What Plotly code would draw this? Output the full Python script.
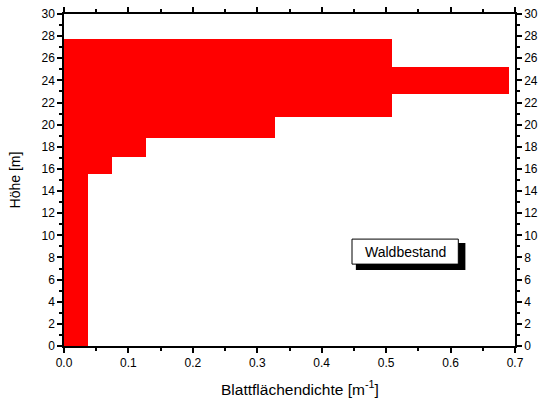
import plotly.graph_objects as go

# Layer data (height bounds in m, leaf area density in m^-1)
layer_top = [27.7, 25.2, 22.8, 20.7, 18.8, 17.1, 15.5]
layer_bottom = [25.2, 22.8, 20.7, 18.8, 17.1, 15.5, 0.0]
density = [0.509, 0.690, 0.509, 0.328, 0.128, 0.074, 0.037]

y_center = [(t + b) / 2 for t, b in zip(layer_top, layer_bottom)]
thickness = [t - b for t, b in zip(layer_top, layer_bottom)]

FONT = "Arial, Liberation Sans, sans-serif"

fig = go.Figure()
fig.add_trace(go.Bar(
    x=density, y=y_center, width=thickness, orientation="h",
    marker=dict(color="#ff0000", line=dict(width=0)),
    showlegend=False, hoverinfo="x+y",
))
# invisible trace for right axis
fig.add_trace(go.Scatter(x=[0], y=[0], yaxis="y2", mode="markers",
                         marker=dict(opacity=0), showlegend=False, hoverinfo="skip"))

axis_common = dict(
    showline=True, linecolor="black", linewidth=1.5,
    ticks="outside", ticklen=5, tickwidth=1.5, tickcolor="black",
    showgrid=False, zeroline=False, automargin=False,
    tickfont=dict(family=FONT, size=12, color="black"),
)

fig.update_layout(
    width=540, height=403,
    margin=dict(l=64, r=25, t=14, b=57),
    paper_bgcolor="white", plot_bgcolor="white",
    font=dict(family=FONT, size=12, color="black"),
    bargap=0,
    xaxis=dict(
        range=[0, 0.7], dtick=0.1, tickformat=".1f", mirror="ticks",
        minor=dict(ticks="outside", dtick=0.05, ticklen=3, tickwidth=1.5, tickcolor="black"),
        **axis_common,
    ),
    yaxis=dict(
        range=[0, 30], dtick=2,
        minor=dict(ticks="outside", dtick=1, ticklen=3, tickwidth=1.5, tickcolor="black"),
        title=dict(text="Höhe [m]", font=dict(family=FONT, size=14), standoff=18),
        **axis_common,
    ),
    yaxis2=dict(
        range=[0, 30], dtick=2, overlaying="y", side="right",
        minor=dict(ticks="outside", dtick=1, ticklen=3, tickwidth=1.5, tickcolor="black"),
        **axis_common,
    ),
    shapes=[
        dict(type="rect", xref="x", yref="y", x0=0.453, x1=0.623, y0=6.86, y1=9.3,
             fillcolor="black", line=dict(width=0), layer="above"),
        dict(type="rect", xref="x", yref="y", x0=0.447, x1=0.612, y0=7.40, y1=9.66,
             fillcolor="white", line=dict(color="black", width=1), layer="above"),
    ],
    annotations=[
        dict(x=0.5295, y=8.53, xref="x", yref="y", text="Waldbestand", showarrow=False,
             font=dict(family=FONT, size=14, color="black")),
        dict(x=0.523, y=-0.125, xref="paper", yref="paper", xanchor="center", yanchor="middle",
             text="Blattflächendichte [m<sup>-1</sup>]", showarrow=False,
             font=dict(family=FONT, size=15.5, color="black")),
    ],
)

fig.write_html("out.html")
